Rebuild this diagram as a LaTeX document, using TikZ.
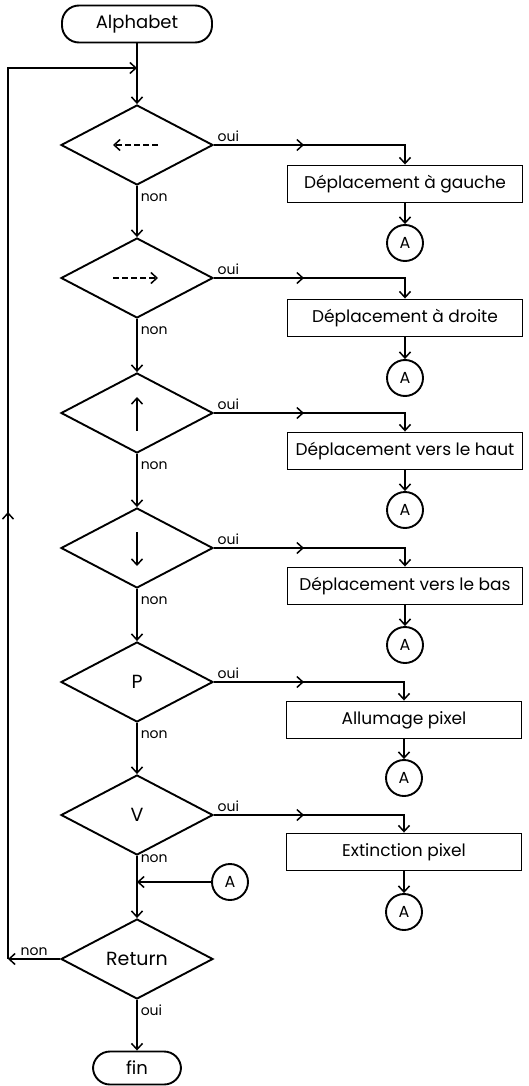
\documentclass[tikz,border=0pt]{standalone}
\usepackage{fontspec}
\setmainfont{Poppins}
\usetikzlibrary{shapes.geometric,arrows.meta,decorations.markings}

\begin{document}
\begin{tikzpicture}[x=1pt,y=-1pt,
  tip/.style={-{Straight Barb[length=6pt,width=11pt,line width=1.5pt]}},
  flow/.style={line width=1.5pt,tip},
  midfleche/.style={postaction={decorate},decoration={markings,
    mark=at position #1 with {\arrow{Straight Barb[length=6pt,width=11pt,line width=1.5pt]}}}},
  terminal/.style={draw,line width=1.9pt,rectangle,rounded corners=17pt,
    minimum height=37pt,inner sep=0pt,font=\fontsize{18}{20}\selectfont},
  test/.style={draw,line width=1.9pt,diamond,minimum width=152pt,
    minimum height=80pt,inner sep=0pt,font=\fontsize{19}{21}\selectfont},
  action/.style={draw,line width=1.9pt,rectangle,minimum width=235pt,
    minimum height=37pt,inner sep=0pt,font=\fontsize{17}{19}\selectfont},
  renvoi/.style={draw,line width=1.9pt,circle,minimum size=36pt,inner sep=0pt,
    font=\fontsize{16}{18}\selectfont},
  etiq/.style={font=\fontsize{14}{16}\selectfont,inner sep=3pt}]
\useasboundingbox (0,0) rectangle (529,1086);

% Debut et fin
\node[terminal,minimum width=150pt] (alpha) at (137,24) {Alphabet};
\node[terminal,minimum width=88pt,minimum height=33pt] (fin) at (137,1068) {fin};

% Tests de la colonne principale
\node[test] (t1) at (137,145) {};
\node[test] (t2) at (137,278) {};
\node[test] (t3) at (137,413) {};
\node[test] (t4) at (137,548) {};
\node[test] (t5) at (137,682) {P};
\node[test] (t6) at (137,815) {V};
\node[test] (ret) at (137,959) {Return};

% Symboles dans les tests
\draw[line width=1.5pt,dash pattern=on 6pt off 3pt,tip] ([xshift=21]t1.center) -- ([xshift=-24]t1.center);
\draw[line width=1.5pt,dash pattern=on 6pt off 3pt,tip] ([xshift=-24]t2.center) -- ([xshift=21]t2.center);
\draw[line width=1.7pt,tip] ([yshift=-18]t3.center) -- ([yshift=16]t3.center);
\draw[line width=1.7pt,tip] ([yshift=16]t4.center) -- ([yshift=-18]t4.center);

% Actions
\node[action] (a1) at (405,184) {Déplacement à gauche};
\node[action] (a2) at (405,318) {Déplacement à droite};
\node[action] (a3) at (405,451) {Déplacement vers le haut};
\node[action] (a4) at (405,586) {Déplacement vers le bas};
\node[action] (a5) at (404,720) {Allumage pixel};
\node[action] (a6) at (404,852) {Extinction pixel};

% Renvois A
\node[renvoi] (r1) at (405,243) {A};
\node[renvoi] (r2) at (405,378) {A};
\node[renvoi] (r3) at (405,510) {A};
\node[renvoi] (r4) at (405,645) {A};
\node[renvoi] (r5) at (404,778) {A};
\node[renvoi] (r6) at (404,912) {A};
\node[renvoi] (r0) at (230,882) {A};

% Points de passage
\coordinate (jonction) at (137,882);
\coordinate (boucle) at (137,68);
\coordinate (gauche) at (8,959);
\coordinate (coin) at (8,68);

% Colonne principale
\draw[flow] (alpha) -- (t1);
\foreach \a/\b in {t1/t2,t2/t3,t3/t4,t4/t5,t5/t6}
  \draw[flow] (\a.south) -- node[etiq,pos=0.22,right] {non} (\b.north);
\draw[flow] (t6.south) -- node[etiq,pos=0.12,right] {non} (jonction) -- (ret.north);
\draw[flow] (r0) -- (jonction);
\draw[flow] (ret.south) -- node[etiq,pos=0.2,right] {oui} (fin.north);

% Branches oui
\foreach \t/\a/\r in {t1/a1/r1,t2/a2/r2,t3/a3/r3,t4/a4/r4,t5/a5/r5,t6/a6/r6}{
  \draw[flow,midfleche=90pt] (\t.east) -| node[etiq,pos=0,above right] {oui} (\a.north);
  \draw[flow] (\a.south) -- (\r.north);
}

% Retour au debut
\draw[flow] (ret.west) -- node[etiq,above] {non} (gauche);
\draw[flow,midfleche=447pt] (gauche) -- (coin) -- (boucle);
\end{tikzpicture}
\end{document}
